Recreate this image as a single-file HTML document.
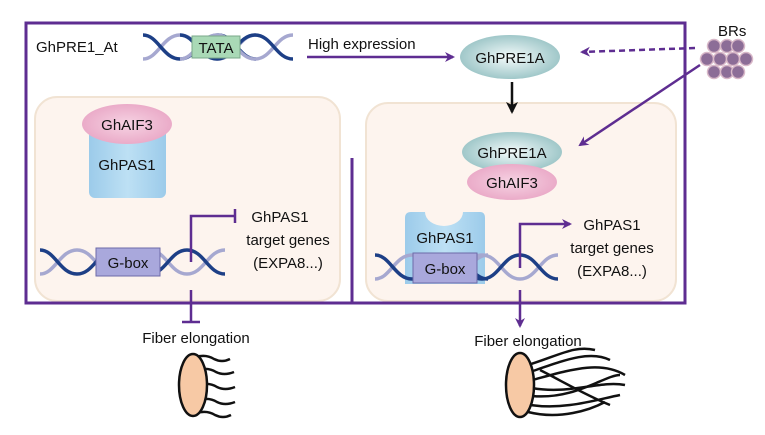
<!DOCTYPE html>
<html><head><meta charset="utf-8"><style>
html,body{margin:0;padding:0;background:#fff}
svg text{font-family:"Liberation Sans",sans-serif;fill:#111}
</style></head><body>
<svg width="765" height="430" viewBox="0 0 765 430" xmlns="http://www.w3.org/2000/svg">
<defs>
<radialGradient id="teal" cx="50%" cy="50%" r="60%"><stop offset="0" stop-color="#f4fbfb"/><stop offset="1" stop-color="#8fbdbf"/></radialGradient>
<radialGradient id="pink" cx="50%" cy="50%" r="60%"><stop offset="0" stop-color="#f6d3e3"/><stop offset="1" stop-color="#e8a3c3"/></radialGradient>
<linearGradient id="blue" x1="0" y1="0" x2="1" y2="0"><stop offset="0" stop-color="#9ccbea"/><stop offset=".5" stop-color="#bde0f4"/><stop offset="1" stop-color="#9ccbea"/></linearGradient>
<marker id="ap" markerWidth="10" markerHeight="10" refX="8" refY="5" orient="auto" markerUnits="userSpaceOnUse"><path d="M0,0 L10,5 L0,10 L3,5z" fill="#5e2d91"/></marker>
<marker id="ab" markerWidth="12" markerHeight="12" refX="10" refY="6" orient="auto" markerUnits="userSpaceOnUse"><path d="M0,0 L12,6 L0,12 L3,6z" fill="#111"/></marker>
<g id="helix">
<path d="M0,24 C15,24 20,0 37,0 C54,0 58,24 75,24 C92,24 96,0 113,0" fill="none" stroke="#a6a8d0" stroke-width="3.5"/>
<path d="M0,0 C15,0 20,24 37,24 C54,24 58,0 75,0 C92,0 96,24 113,24" fill="none" stroke="#1d3f86" stroke-width="3.5"/>
</g>
</defs>
<rect x="35" y="97" width="305" height="204" rx="22" fill="#fdf4ee" stroke="#f1e3d3" stroke-width="2"/>
<rect x="366" y="103" width="310" height="198" rx="22" fill="#fdf4ee" stroke="#f1e3d3" stroke-width="2"/>
<rect x="26" y="23" width="659" height="280" fill="none" stroke="#5e2d91" stroke-width="3"/>
<line x1="352" y1="158" x2="352" y2="303" stroke="#5e2d91" stroke-width="3"/>

<text x="36" y="52" font-size="15">GhPRE1_At</text>
<use href="#helix" x="143" y="35"/>
<use href="#helix" x="180" y="35"/>
<rect x="192" y="36" width="48" height="22" fill="#a9d9b6" stroke="#7aa88a"/>
<text x="216" y="53" font-size="15" text-anchor="middle">TATA</text>
<text x="308" y="49" font-size="15">High expression</text>
<line x1="307" y1="57" x2="453" y2="57" stroke="#5e2d91" stroke-width="2.5" marker-end="url(#ap)"/>
<ellipse cx="510" cy="57" rx="50" ry="22" fill="url(#teal)"/>
<text x="510" y="63" font-size="15" text-anchor="middle">GhPRE1A</text>
<line x1="512" y1="82" x2="512" y2="112" stroke="#111" stroke-width="2.5" marker-end="url(#ab)"/>
<text x="718" y="36" font-size="15">BRs</text>
<g fill="#8c6d97" stroke="#d8b8c8" stroke-width="1.5">
<circle cx="714" cy="46" r="6.5"/><circle cx="727" cy="46" r="6.5"/><circle cx="738" cy="46" r="6.5"/>
<circle cx="707" cy="59" r="6.5"/><circle cx="720" cy="59" r="6.5"/><circle cx="733" cy="59" r="6.5"/><circle cx="746" cy="59" r="6.5"/>
<circle cx="714" cy="72" r="6.5"/><circle cx="727" cy="72" r="6.5"/><circle cx="738" cy="72" r="6.5"/>
</g>
<line x1="695" y1="48" x2="582" y2="52" stroke="#5e2d91" stroke-width="2.5" stroke-dasharray="6 4" marker-end="url(#ap)"/>
<line x1="700" y1="65" x2="580" y2="145" stroke="#5e2d91" stroke-width="2.5" marker-end="url(#ap)"/>

<rect x="89" y="128" width="77" height="70" rx="6" fill="url(#blue)"/>
<ellipse cx="127" cy="124" rx="45" ry="20" fill="url(#pink)"/>
<text x="127" y="130" font-size="15" text-anchor="middle">GhAIF3</text>
<text x="127" y="170" font-size="15" text-anchor="middle">GhPAS1</text>
<use href="#helix" x="40" y="250"/>
<use href="#helix" x="112" y="250"/>
<rect x="96" y="248" width="64" height="28" fill="#a9a8dc" stroke="#6d6aa8"/>
<text x="128" y="268" font-size="15" text-anchor="middle">G-box</text>
<path d="M191,262 V216 H235" fill="none" stroke="#5e2d91" stroke-width="2.5"/>
<line x1="235" y1="209" x2="235" y2="223" stroke="#5e2d91" stroke-width="2.5"/>
<text x="280" y="222" font-size="15" text-anchor="middle">GhPAS1</text>
<text x="288" y="245" font-size="15" text-anchor="middle">target genes</text>
<text x="288" y="268" font-size="15" text-anchor="middle">(EXPA8...)</text>
<line x1="191" y1="290" x2="191" y2="322" stroke="#5e2d91" stroke-width="2.5"/>
<line x1="182" y1="322" x2="200" y2="322" stroke="#5e2d91" stroke-width="2.5"/>
<text x="196" y="343" font-size="15" text-anchor="middle">Fiber elongation</text>
<g fill="none" stroke="#111" stroke-width="2.5">
<path d="M196,357 q10,-3 18,2 q8,4 16,0"/>
<path d="M198,370 q10,-3 18,2 q8,4 18,0"/>
<path d="M199,385 q10,-3 18,2 q8,4 18,0"/>
<path d="M199,400 q10,-3 18,2 q8,4 18,0"/>
<path d="M197,413 q10,-3 18,2 q8,4 16,0"/>
</g>
<ellipse cx="193" cy="385" rx="14" ry="31" fill="#f7c9a5" stroke="#111" stroke-width="2.5"/>

<ellipse cx="512" cy="152" rx="50" ry="20" fill="url(#teal)"/>
<ellipse cx="512" cy="182" rx="45" ry="18" fill="url(#pink)"/>
<text x="512" y="158" font-size="15" text-anchor="middle">GhPRE1A</text>
<text x="512" y="188" font-size="15" text-anchor="middle">GhAIF3</text>
<path d="M411,212 H425 A19,14 0 0 0 463,212 H480 Q485,212 485,218 V284 H405 V218 Q405,212 411,212z" fill="url(#blue)"/>
<text x="445" y="243" font-size="15" text-anchor="middle">GhPAS1</text>
<use href="#helix" x="375" y="255"/>
<use href="#helix" x="445" y="255"/>
<rect x="413" y="253" width="64" height="30" fill="#a9a8dc" stroke="#6d6aa8"/>
<text x="445" y="274" font-size="15" text-anchor="middle">G-box</text>
<path d="M520,268 V224 H570" fill="none" stroke="#5e2d91" stroke-width="2.5" marker-end="url(#ap)"/>
<text x="612" y="230" font-size="15" text-anchor="middle">GhPAS1</text>
<text x="612" y="253" font-size="15" text-anchor="middle">target genes</text>
<text x="612" y="276" font-size="15" text-anchor="middle">(EXPA8...)</text>
<line x1="520" y1="290" x2="520" y2="326" stroke="#5e2d91" stroke-width="2.5" marker-end="url(#ap)"/>
<text x="528" y="346" font-size="15" text-anchor="middle">Fiber elongation</text>
<g fill="none" stroke="#111" stroke-width="2.5">
<path d="M528,365 C560,355 575,345 595,350"/>
<path d="M530,372 C565,360 590,350 610,360"/>
<path d="M532,380 C570,370 600,360 625,375"/>
<path d="M532,388 C570,395 600,380 625,385"/>
<path d="M532,396 C575,400 605,375 620,375"/>
<path d="M530,405 C565,410 595,400 620,395"/>
<path d="M528,412 C560,420 590,410 605,402"/>
<path d="M540,370 C560,380 585,395 610,405"/>
</g>
<ellipse cx="520" cy="385" rx="14" ry="32" fill="#f7c9a5" stroke="#111" stroke-width="2.5"/>
</svg>
</body></html>
